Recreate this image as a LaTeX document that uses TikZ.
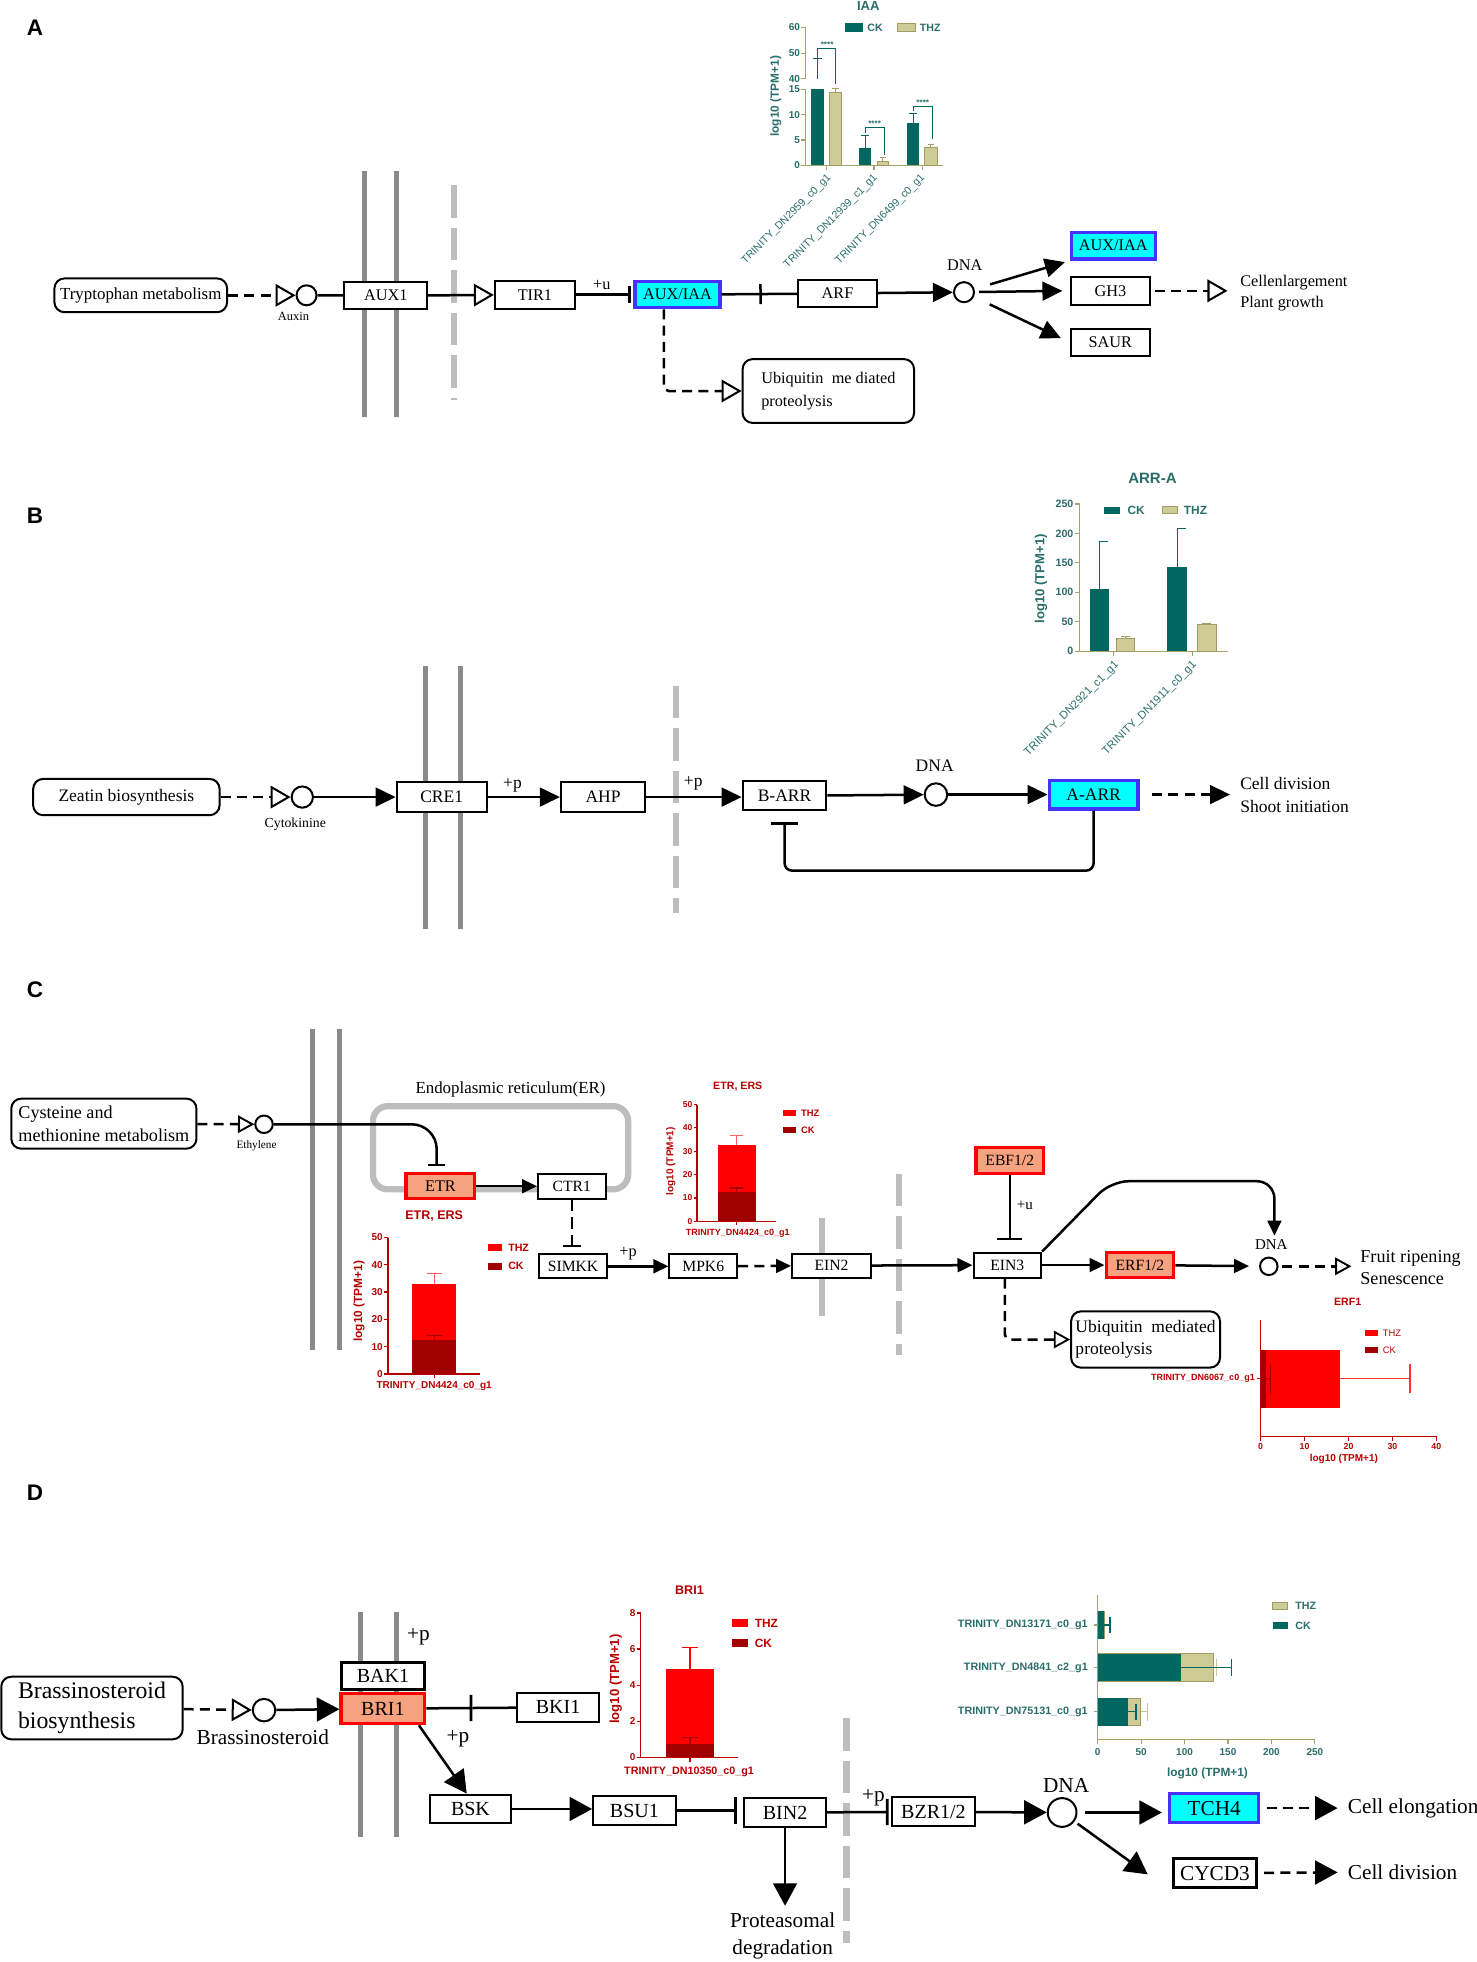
\documentclass[tikz,border=0pt]{standalone}
\usepackage{fontspec}
\setmainfont{Liberation Serif}
\newfontfamily\chartfont{Liberation Sans}
\usetikzlibrary{arrows.meta}
\newcommand{\fsz}[1]{\fontsize{#1}{#1}\selectfont}
\newcommand{\cf}[1]{\chartfont\bfseries\fontsize{#1}{#1}\selectfont}
\newcommand{\cfr}[1]{\chartfont\fontsize{#1}{#1}\selectfont}
\definecolor{teal1}{HTML}{006660}
\definecolor{tealtxt}{HTML}{2A6E6B}
\definecolor{khaki}{HTML}{CFCB97}
\definecolor{khakiline}{HTML}{A09C62}
\definecolor{axkh}{HTML}{A6A36A}
\definecolor{red1}{HTML}{FF0000}
\definecolor{lred}{HTML}{FF6060}
\definecolor{dred}{HTML}{A00000}
\definecolor{redtxt}{HTML}{B80000}
\definecolor{salmon1}{HTML}{F7A27F}
\definecolor{cyan1}{HTML}{00FFFF}
\definecolor{blue1}{HTML}{4433FF}
\definecolor{memgray}{HTML}{8A8A8A}
\definecolor{lgray}{HTML}{BDBDBD}
\tikzset{
 ln/.style={line width=2pt},
 dl/.style={line width=2pt, dash pattern=on 8pt off 5pt},
 tipF/.style={-{Triangle[length=16pt,width=15pt]}},
 tipFs/.style={-{Triangle[length=12pt,width=11pt]}},
 tipFL/.style={-{Triangle[length=18pt,width=19pt]}},
 tipO/.style={-{Triangle[open,length=16pt,width=18pt,line width=1.6pt]}},
 tipOs/.style={-{Triangle[open,length=13pt,width=14pt,line width=1.5pt]}},
 tipB/.style={-{Bar[width=15pt,line width=2pt]}},
 tipBL/.style={-{Bar[width=21pt,line width=2.2pt]}},
 gbox/.style={draw, line width=1.6pt, fill=white, inner sep=0pt},
 cbox/.style={gbox, fill=cyan1, draw=blue1, line width=2.6pt},
 sbox/.style={gbox, fill=salmon1, draw=red1, line width=2.6pt},
 rbox/.style={draw, line width=1.6pt, rounded corners=8pt, fill=white, inner sep=0pt},
 dnac/.style={circle, draw, line width=1.6pt, fill=white, inner sep=0pt},
 memb/.style={memgray, line width=4pt},
 dmemb/.style={lgray, line width=5pt, dash pattern=on 26pt off 8pt},
 plabel/.style={font=\cf{18}},
 txt/.style={inner sep=0pt},
}
\begin{document}
\begin{tikzpicture}[x=1pt,y=-1pt]
\useasboundingbox (0,0) rectangle (1180,1568);
\fill[white] (0,0) rectangle (1180,1568);

%%%%%%%%%%%%%%%% PANEL A
\node[plabel] (labA) at (28,22) {A};
\draw[memb] (291,137) -- (291,333);
\draw[memb] (317,137) -- (317,333);
\draw[dmemb] (362.6,148) -- (362.6,320);

\node[rbox, minimum width=138pt, minimum height=27pt, font=\fsz{13.5}] (tryp) at (112.5,236) {Tryptophan metabolism};
\node[dnac, minimum size=16pt] (auxin) at (245,236) {};
\node[font=\fsz{10}] (auxinL) at (234.6,253) {Auxin};
\draw[dl, tipO] (tryp) -- (auxin);
\node[gbox, minimum width=66pt, minimum height=22pt, font=\fsz{13}] (aux1) at (308.3,236.3) {AUX1};
\draw[ln] (auxin) -- (aux1);
\node[gbox, minimum width=64pt, minimum height=22.5pt, font=\fsz{13}] (tir1) at (427.5,235.5) {TIR1};
\draw[ln, tipO] (aux1) -- (tir1);
\node[cbox, minimum width=68pt, minimum height=21pt, font=\fsz{13}] (auxiaa) at (541.5,235.5) {AUX/IAA};
\draw[ln, -{Bar[width=14pt,line width=2pt]}, shorten >=2pt] (tir1) -- (auxiaa);
\node[font=\fsz{13}] (uA) at (481,228) {+u};
\node[gbox, minimum width=63pt, minimum height=21.5pt, font=\fsz{13}] (arf) at (669.3,234.5) {ARF};
\coordinate (barA) at (608.8,235);
\draw[ln, -{Bar[width=16pt,line width=2pt]}] (auxiaa) -- (barA);
\draw[ln] (barA) -- (arf);
\node[dnac, minimum size=16pt] (dnaA) at (770.4,233.5) {};
\node[font=\fsz{13}] (dnaAL) at (771,212) {DNA};
\draw[ln, tipF] (arf) -- (dnaA);
\node[cbox, minimum width=67pt, minimum height=21.5pt, font=\fsz{13}] (auxiaa2) at (889.7,196.3) {AUX/IAA};
\node[gbox, minimum width=63pt, minimum height=22pt, font=\fsz{13}] (gh3) at (887.4,232.4) {GH3};
\node[gbox, minimum width=63pt, minimum height=22pt, font=\fsz{13}] (saur) at (887.4,273.7) {SAUR};
\draw[ln, tipF, shorten <=13pt, shorten >=4pt] (dnaA) -- (auxiaa2.south west);
\draw[ln, tipF, shorten <=12pt, shorten >=6pt] (dnaA.center) -- (gh3.west);
\draw[ln, tipF, shorten <=14pt, shorten >=8pt] (dnaA) -- (saur.west);
\node[txt, anchor=west, align=left, font=\fontsize{13}{17}\selectfont] (cellA) at (991,234) {Cellenlargement\\Plant growth};
\draw[dl, tipO, shorten <=3pt, shorten >=10pt] (gh3) -- (cellA.west |- gh3);
\node[rbox, minimum width=137pt, minimum height=51pt, align=left, font=\fontsize{13}{18}\selectfont] (ubqA) at (662,312.5) {Ubiquitin\ \ me diated\\proteolysis};
\draw[dl, tipO, rounded corners=4pt] ([xshift=-11pt]auxiaa.south) |- (ubqA.west);

% IAA chart
\node[font=\cf{10.5}, text=tealtxt] (iaaT) at (694,5) {IAA};
\draw[axkh, line width=1pt] (644,132) -- (644,71.5) (644,63) -- (644,22);
\draw[axkh, line width=1pt] (644,132) -- (754,132);
\foreach \v/\yy [count=\i] in {0/132,5/111.8,10/91.7,15/71.5,40/63,50/42.5,60/22}{
  \draw[axkh, line width=1pt] (640.5,\yy) -- (644,\yy);
  \node[font=\cf{8}, text=tealtxt, anchor=east, inner sep=0.5pt] (iaaY\i) at (640,\yy) {\v};
}
\foreach \xx in {660.5,698.5,737} \draw[axkh, line width=1pt] (\xx,132) -- (\xx,135.5);
\fill[teal1] (648.5,132) rectangle (658.5,71.5);
\fill[teal1] (686.5,132) rectangle (696,118.5);
\fill[teal1] (725,132) rectangle (734.5,98);
\filldraw[fill=khaki, draw=khakiline, line width=0.8pt] (663,132) rectangle (672.5,74);
\filldraw[fill=khaki, draw=khakiline, line width=0.8pt] (701,132) rectangle (710,129);
\filldraw[fill=khaki, draw=khakiline, line width=0.8pt] (739,132) rectangle (749,117.6);
\draw[teal1, line width=0.8pt] (653.5,63) -- (653.5,46.6) (650,46.6) -- (657,46.6);
\draw[teal1, line width=0.8pt] (691.3,118.5) -- (691.3,108) (688,108) -- (694.6,108);
\draw[teal1, line width=0.8pt] (729.7,98) -- (729.7,90.7) (726.4,90.7) -- (733,90.7);
\draw[khakiline, line width=0.8pt] (667.7,74) -- (667.7,71) (665,71) -- (670.4,71);
\draw[khakiline, line width=0.8pt] (705.5,129) -- (705.5,126) (703,126) -- (708,126);
\draw[khakiline, line width=0.8pt] (744,117.6) -- (744,115.4) (741.5,115.4) -- (746.5,115.4);
\draw[teal1, line width=0.8pt] (653.3,46) -- (653.3,38.7) -- (668,38.7) -- (668,67);
\draw[teal1, line width=0.8pt] (691.3,106) -- (691.3,102) -- (706.5,102) -- (706.5,124);
\draw[teal1, line width=0.8pt] (729.7,89) -- (729.7,85) -- (745,85) -- (745,111);
\node[font=\cf{6.5}, text=tealtxt] (iaaS1) at (661,35.5) {****};
\node[font=\cf{6.5}, text=tealtxt] (iaaS2) at (699,99) {****};
\node[font=\cf{6.5}, text=tealtxt] (iaaS3) at (737.5,82) {****};
\fill[teal1] (675,18.7) rectangle (690,25.3);
\node[font=\cf{8.5}, text=tealtxt, anchor=west, inner sep=0pt] (iaaL1) at (693,22) {CK};
\filldraw[fill=khaki, draw=khakiline, line width=0.8pt] (717,18.7) rectangle (732,25.3);
\node[font=\cf{8.5}, text=tealtxt, anchor=west, inner sep=0pt] (iaaL2) at (735,22) {THZ};
\node[font=\cf{9.5}, text=tealtxt, rotate=90] (iaaYL) at (620,77) {log10 (TPM+1)};
\node[font=\cfr{8.5}, text=tealtxt, rotate=45, anchor=east, inner sep=0pt] (iaaX1) at (663,141) {TRINITY\_DN2959\_c0\_g1};
\node[font=\cfr{8.5}, text=tealtxt, rotate=45, anchor=east, inner sep=0pt] (iaaX2) at (700,141) {TRINITY\_DN12939\_c1\_g1};
\node[font=\cfr{8.5}, text=tealtxt, rotate=45, anchor=east, inner sep=0pt] (iaaX3) at (738,141) {TRINITY\_DN6499\_c0\_g1};

%%%%%%%%%%%%%%%% PANEL B
\node[plabel] (labB) at (28,412) {B};
\draw[memb] (340,532) -- (340,742.6);
\draw[memb] (368,532) -- (368,742.6);
\draw[dmemb] (540,548) -- (540,730);
\node[rbox, minimum width=149pt, minimum height=29pt, font=\fsz{14}] (zeat) at (101,637) {Zeatin biosynthesis};
\node[dnac, minimum size=17pt] (cyto) at (241.6,637) {};
\node[font=\fsz{11}] (cytoL) at (236,658.7) {Cytokinine};
\draw[dl, tipO] (zeat) -- (cyto);
\node[gbox, minimum width=72pt, minimum height=24pt, font=\fsz{14}] (cre1) at (353,637) {CRE1};
\draw[ln, tipF] (cyto) -- (cre1);
\node[gbox, minimum width=67.5pt, minimum height=24pt, font=\fsz{14}] (ahp) at (482,637) {AHP};
\draw[ln, tipF] (cre1) -- (ahp);
\node[font=\fsz{14}] (pB1) at (409.6,628) {+p};
\node[gbox, minimum width=67pt, minimum height=23pt, font=\fsz{14}] (barr) at (627,636) {B-ARR};
\draw[ln, tipF] (ahp) -- (ahp -| barr.west);
\node[font=\fsz{14}] (pB2) at (554,626) {+p};
\node[dnac, minimum size=18pt] (dnaB) at (748,635) {};
\node[font=\fsz{14}] (dnaBL) at (747,612) {DNA};
\draw[ln, tipF] (barr) -- (dnaB);
\node[cbox, minimum width=71pt, minimum height=23pt, font=\fsz{14}] (aarr) at (874,635) {A-ARR};
\draw[ln, tipF] (dnaB) -- (aarr);
\node[txt, anchor=west, align=left, font=\fontsize{14}{18}\selectfont] (cellB) at (991,635.5) {Cell division\\Shoot initiation};
\draw[dl, tipF, shorten <=10pt, shorten >=8pt] (aarr) -- (cellB.west |- aarr);
\draw[ln, rounded corners=6pt, -{Bar[width=22pt,line width=2.2pt]}, shorten >=9pt] (aarr.south) -- ++(0,48) -| (barr.south);

% ARR-A chart
\node[font=\cf{12}, text=tealtxt] (arrT) at (921,382) {ARR-A};
\draw[axkh, line width=1pt] (863,520.5) -- (863,402.7);
\draw[axkh, line width=1pt] (863,520.5) -- (981,520.5);
\foreach \v [count=\i] in {0,50,100,150,200,250}{
  \draw[axkh, line width=1pt] (859.5,520.5-0.4712*\v) -- (863,520.5-0.4712*\v);
  \node[font=\cf{8.5}, text=tealtxt, anchor=east, inner sep=0.5pt] (arrY\i) at (858.5,520.5-0.4712*\v) {\v};
}
\foreach \xx in {890,953} \draw[axkh, line width=1pt] (\xx,520.5) -- (\xx,524);
\fill[teal1] (870.7,520.5) rectangle (886,470.6);
\fill[teal1] (933,520.5) rectangle (949,453.1);
\filldraw[fill=khaki, draw=khakiline, line width=0.8pt] (892,520.5) rectangle (907,510.6);
\filldraw[fill=khaki, draw=khakiline, line width=0.8pt] (957,520.5) rectangle (972,499.3);
\draw[teal1, line width=0.8pt] (878.3,470.6) -- (878.3,432.9) (878.3,432.9) -- (885.5,432.9);
\draw[teal1, line width=0.8pt] (941,453.1) -- (941,422) (941,422) -- (948,422);
\draw[khakiline, line width=0.8pt] (899.5,510.6) -- (899.5,508.7) (896,508.7) -- (903,508.7);
\draw[khakiline, line width=0.8pt] (964.5,499.3) -- (964.5,497.9) (961,497.9) -- (968,497.9);
\fill[teal1] (882,405) rectangle (894.7,410.7);
\node[font=\cf{9.5}, text=tealtxt, anchor=west, inner sep=0pt] (arrL1) at (901,408) {CK};
\filldraw[fill=khaki, draw=khakiline, line width=0.8pt] (929,405) rectangle (941,410.7);
\node[font=\cf{9.5}, text=tealtxt, anchor=west, inner sep=0pt] (arrL2) at (946,408) {THZ};
\node[font=\cf{10.5}, text=tealtxt, rotate=90] (arrYL) at (832,462.6) {log10 (TPM+1)};
\node[font=\cfr{9}, text=tealtxt, rotate=45, anchor=east, inner sep=0pt] (arrX1) at (893,530) {TRINITY\_DN2921\_c1\_g1};
\node[font=\cfr{9}, text=tealtxt, rotate=45, anchor=east, inner sep=0pt] (arrX2) at (955,530) {TRINITY\_DN1911\_c0\_g1};

%%%%%%%%%%%%%%%% PANEL C
\node[plabel] (labC) at (28,791) {C};
\draw[memb] (250,822) -- (250,1078.6);
\draw[memb] (271,822) -- (271,1078.6);
\draw[lgray, line width=5pt] (657,973) -- (657,1052);
\draw[dmemb] (718.6,938) -- (718.6,1083);
\draw[lgray, line width=5pt, rounded corners=12pt] (298,884) rectangle (502,950.5);
\node[font=\fsz{13.5}] (erL) at (408,871) {Endoplasmic reticulum(ER)};
\node[rbox, minimum width=148pt, minimum height=40pt, align=left, font=\fontsize{14.5}{18}\selectfont] (cyst) at (83,898) {Cysteine and\\methionine metabolism};
\node[dnac, minimum size=14pt] (eth) at (211,898.5) {};
\node[font=\fsz{9}] (ethL) at (205,916) {Ethylene};
\draw[dl, tipOs] (cyst) -- (eth);
\node[sbox, minimum width=55pt, minimum height=20pt, font=\fsz{13}] (etr) at (352,948) {ETR};
\node[gbox, minimum width=54pt, minimum height=20pt, font=\fsz{12.5}] (ctr1) at (457,948) {CTR1};
\draw[ln, rounded corners=20pt, -{Bar[width=14pt,line width=2pt]}, shorten >=4.5pt] (eth) -| ([xshift=-3pt]etr.north);
\draw[ln, tipFs] (etr) -- (ctr1);
\node[gbox, minimum width=54pt, minimum height=19pt, font=\fsz{12.5}] (simkk) at (458,1012) {SIMKK};
\draw[ln, dash pattern=on 9pt off 5pt, -{Bar[width=14pt,line width=2pt]}, shorten >=5pt] (ctr1) -- (ctr1 |- simkk.north);
\node[gbox, minimum width=54pt, minimum height=19pt, font=\fsz{12.5}] (mpk6) at (562,1012) {MPK6};
\draw[ln, tipFs] (simkk) -- (mpk6);
\node[font=\fsz{13}] (pC1) at (502,1002) {+p};
\node[gbox, minimum width=63pt, minimum height=19pt, font=\fsz{12.5}] (ein2) at (664.5,1011.5) {EIN2};
\draw[dl, tipFs] (mpk6) -- (ein2);
\node[gbox, minimum width=54pt, minimum height=20pt, font=\fsz{12.5}] (ein3) at (805,1011) {EIN3};
\draw[ln, tipFs] (ein2) -- (ein3);
\node[sbox, minimum width=54pt, minimum height=21pt, font=\fsz{12.5}] (ebf) at (807,927.5) {EBF1/2};
\draw[ln, -{Bar[width=20pt,line width=2.2pt]}, shorten >=9pt] (ebf.south) -- (ebf.south |- ein3.north);
\node[font=\fsz{12}] (uC) at (819,963) {+u};
\node[sbox, minimum width=54pt, minimum height=20pt, font=\fsz{12.5}] (erf) at (911,1011) {ERF1/2};
\draw[ln, tipFs] (ein3) -- (erf);
\node[dnac, minimum size=14pt] (dnaC) at (1014,1012) {};
\node[font=\fsz{12}] (dnaCL) at (1016,995) {DNA};
\draw[ln, tipFs, shorten >=8pt] (erf) -- (dnaC);
\draw[ln, rounded corners=14pt, tipFs] (ein3.north east) -- (888,944) -- (1018.5,944) -- ([xshift=2.5pt]dnaCL.north);
\node[txt, anchor=west, align=left, font=\fontsize{14.5}{18}\selectfont] (fruit) at (1087,1013) {Fruit ripening\\Senescence};
\draw[dl, tipOs, shorten <=3pt, shorten >=7pt] (dnaC) -- (fruit.west |- dnaC);
\node[rbox, minimum width=119pt, minimum height=45pt, align=left, font=\fontsize{14}{18}\selectfont] (ubqC) at (915.5,1070.5) {Ubiquitin\ \ mediated\\proteolysis};
\draw[dl, tipOs, rounded corners=4pt] ([xshift=-2pt]ein3.south) |- (ubqC.west);

% ETR chart lower-left
\node[font=\cf{10}, text=redtxt] (etr1T) at (347,972) {ETR, ERS};
\draw[redtxt, line width=1pt] (310,1098) -- (310,989);
\draw[redtxt, line width=1pt] (310,1098) -- (384,1098);
\foreach \v [count=\i] in {0,10,20,30,40,50}{
  \draw[redtxt, line width=1pt] (307,1098-2.18*\v) -- (310,1098-2.18*\v);
  \node[font=\cf{8}, text=redtxt, anchor=east, inner sep=0.5pt] (etr1Y\i) at (306.5,1098-2.18*\v) {\v};
}
\draw[redtxt, line width=1pt] (347,1098) -- (347,1101.5);
\fill[red1] (329,1098) rectangle (364.5,1026.5);
\fill[dred] (329,1098) rectangle (364.5,1071.2);
\draw[lred, line width=1pt] (347,1026.5) -- (347,1018) (341,1018) -- (353,1018);
\draw[dred, line width=1pt] (347,1071.2) -- (347,1067) (341,1067) -- (353,1067);
\fill[red1] (390,994) rectangle (401,999.5);
\node[font=\cf{8.5}, text=redtxt, anchor=west, inner sep=0pt] (etr1L1) at (406,997) {THZ};
\fill[dred] (390,1009) rectangle (401,1014.6);
\node[font=\cf{8.5}, text=redtxt, anchor=west, inner sep=0pt] (etr1L2) at (406,1012) {CK};
\node[font=\cf{9.5}, text=redtxt, rotate=90] (etr1YL) at (287,1040) {log10 (TPM+1)};
\node[font=\cf{8}, text=redtxt] (etr1X) at (347,1108) {TRINITY\_DN4424\_c0\_g1};

% ETR chart top
\node[font=\cf{8.5}, text=redtxt] (etr2T) at (589.6,868) {ETR, ERS};
\draw[redtxt, line width=1pt] (557,976) -- (557,882.7);
\draw[redtxt, line width=1pt] (557,976) -- (620,976);
\foreach \v [count=\i] in {0,10,20,30,40,50}{
  \draw[redtxt, line width=1pt] (554.5,976-1.866*\v) -- (557,976-1.866*\v);
  \node[font=\cf{6.8}, text=redtxt, anchor=east, inner sep=0.5pt] (etr2Y\i) at (554,976-1.866*\v) {\v};
}
\draw[redtxt, line width=1pt] (588.8,976) -- (588.8,979);
\fill[red1] (573.6,976) rectangle (604,914.8);
\fill[dred] (573.6,976) rectangle (604,953);
\draw[lred, line width=1pt] (588.8,914.8) -- (588.8,907.5) (583.5,907.5) -- (594,907.5);
\draw[dred, line width=1pt] (588.8,953) -- (588.8,949.5) (583.5,949.5) -- (594,949.5);
\fill[red1] (625.6,887) rectangle (636,891.5);
\node[font=\cf{7.5}, text=redtxt, anchor=west, inner sep=0pt] (etr2L1) at (640,889.3) {THZ};
\fill[dred] (625.6,901) rectangle (636,905.5);
\node[font=\cf{7.5}, text=redtxt, anchor=west, inner sep=0pt] (etr2L2) at (640,903.3) {CK};
\node[font=\cf{8}, text=redtxt, rotate=90] (etr2YL) at (536,928) {log10 (TPM+1)};
\node[font=\cf{7.2}, text=redtxt] (etr2X) at (589.6,986) {TRINITY\_DN4424\_c0\_g1};

% ERF1 chart
\node[font=\cf{8.5}, text=redtxt] (erfT) at (1077,1040) {ERF1};
\draw[redtxt, line width=1pt] (1007.5,1054.6) -- (1007.5,1148) -- (1148,1148);
\foreach \v [count=\i] in {0,10,20,30,40}{
  \draw[redtxt, line width=1pt] (1007.5+3.51*\v,1148) -- (1007.5+3.51*\v,1151.5);
  \node[font=\cf{7}, text=redtxt, anchor=north, inner sep=0.5pt] (erfX\i) at (1007.5+3.51*\v,1153) {\v};
}
\draw[redtxt, line width=1pt] (1004.5,1101.8) -- (1007.5,1101.8);
\fill[red1] (1007.5,1078.7) rectangle (1070.7,1125.3);
\fill[dred] (1007.5,1078.7) rectangle (1012.1,1125.3);
\draw[red1!80!white, line width=1pt] (1070.7,1101.8) -- (1126.8,1101.8) (1126.8,1090) -- (1126.8,1113);
\draw[dred, line width=1pt] (1012.1,1101.8) -- (1015.6,1101.8) (1015.6,1090) -- (1015.6,1113);
\fill[red1] (1091,1063) rectangle (1101,1068);
\node[font=\cfr{7.5}, text=redtxt, anchor=west, inner sep=0pt] (erfL1) at (1105,1065.5) {THZ};
\fill[dred] (1091,1076.5) rectangle (1101,1081);
\node[font=\cfr{7.5}, text=redtxt, anchor=west, inner sep=0pt] (erfL2) at (1105,1079) {CK};
\node[font=\cf{7.2}, text=redtxt, anchor=east, inner sep=0pt] (erfY) at (1003,1101.8) {TRINITY\_DN6067\_c0\_g1};
\node[font=\cf{8}, text=redtxt] (erfXL) at (1074,1166) {log10 (TPM+1)};

%%%%%%%%%%%%%%%% PANEL D
\node[plabel] (labD) at (28,1193) {D};
\draw[memb] (288.4,1288) -- (288.4,1468);
\draw[memb] (316.8,1288) -- (316.8,1468);
\draw[dmemb] (676.5,1373) -- (676.5,1553);
\node[rbox, minimum width=145pt, minimum height=50pt, align=left, font=\fontsize{19}{24}\selectfont] (brass) at (73.5,1365) {Brassinosteroid\\biosynthesis};
\node[dnac, minimum size=18pt] (brc) at (211,1366.7) {};
\node[font=\fsz{17}] (brcL) at (210,1388) {Brassinosteroid};
\draw[dl, tipO] (brass) -- (brc);
\node[gbox, line width=2.4pt, minimum width=66pt, minimum height=22pt, font=\fsz{16}] (bak1) at (306,1339.5) {BAK1};
\node[sbox, minimum width=67pt, minimum height=24pt, font=\fsz{16}] (bri1) at (306,1365.5) {BRI1};
\draw[ln, tipFL] (brc) -- (bri1);
\node[font=\fsz{17}] (pD1) at (334.4,1308) {+p};
\node[font=\fsz{17}] (pD2) at (366,1389.3) {+p};
\node[gbox, minimum width=66pt, minimum height=23pt, font=\fsz{16}] (bki1) at (446,1364.5) {BKI1};
\coordinate (barD) at (377.5,1365);
\draw[ln, -{Bar[width=21pt,line width=2.2pt]}] (bri1) -- (barD);
\draw[ln] (barD) -- (bki1);
\node[gbox, minimum width=65pt, minimum height=23pt, font=\fsz{16}] (bsk) at (376,1445.7) {BSK};
\draw[ln, tipFL] ([xshift=-6pt]bri1.south east) -- ([xshift=-3pt]bsk.north);
\node[gbox, minimum width=66pt, minimum height=23pt, font=\fsz{16}] (bsu1) at (507,1447) {BSU1};
\draw[ln, tipFL] (bsk) -- (bsu1.west |- bsk);
\node[gbox, minimum width=65pt, minimum height=23pt, font=\fsz{16}] (bin2) at (627.4,1448.5) {BIN2};
\draw[ln, tipBL, shorten >=5pt] (bsu1) -- (bin2.west |- bsu1);
\node[txt, align=center, font=\fontsize{17}{22}\selectfont] (prot) at (625.5,1547) {Proteasomal\\degradation};
\draw[ln, tipFL, shorten >=5pt] (bin2.south) -- (bin2.south |- prot.north);
\node[font=\fsz{17}] (pD3) at (698,1437) {+p};
\node[gbox, minimum width=66pt, minimum height=23pt, font=\fsz{16}] (bzr) at (746,1448) {BZR1/2};
\draw[ln, tipBL, shorten >=2pt] (bin2) -- (bzr);
\node[dnac, minimum size=23pt] (dnaD) at (848.8,1448.5) {};
\node[font=\fsz{17}] (dnaDL) at (852,1426.7) {DNA};
\draw[ln, tipFL] (bzr) -- (dnaD);
\node[cbox, minimum width=71pt, minimum height=23pt, font=\fsz{17}] (tch4) at (970.4,1445) {TCH4};
\draw[ln, tipFL, shorten <=6pt, shorten >=5pt] (dnaD) -- (tch4.west |- dnaD);
\node[gbox, line width=2.6pt, minimum width=66pt, minimum height=23pt, font=\fsz{17}] (cycd3) at (971,1497) {CYCD3};
\draw[ln, tipFL, shorten <=3pt, shorten >=24pt] (dnaD) -- ([yshift=-15pt]cycd3.west);
\node[txt, anchor=west, font=\fsz{17}] (celD1) at (1077,1445) {Cell elongation};
\node[txt, anchor=west, font=\fsz{17}] (celD2) at (1077,1496) {Cell division};
\draw[dl, tipFL, shorten <=5pt, shorten >=8pt] (tch4) -- (celD1);
\draw[dl, tipFL, shorten <=5pt, shorten >=8pt] (cycd3) -- (celD2);

% BRI1 chart
\node[font=\cf{10}, text=redtxt] (briT) at (551,1270.7) {BRI1};
\draw[redtxt, line width=1pt] (512,1404.5) -- (512,1289);
\draw[redtxt, line width=1pt] (512,1404.5) -- (589.6,1404.5);
\foreach \v [count=\i] in {0,2,4,6,8}{
  \draw[redtxt, line width=1pt] (509,1404.5-14.44*\v) -- (512,1404.5-14.44*\v);
  \node[font=\cf{8}, text=redtxt, anchor=east, inner sep=0.5pt] (briY\i) at (508.5,1404.5-14.44*\v) {\v};
}
\draw[redtxt, line width=1pt] (551.5,1404.5) -- (551.5,1408);
\fill[red1] (532.6,1404.5) rectangle (570.4,1333.7);
\fill[dred] (532.6,1404.5) rectangle (570.4,1394.1);
\draw[red1, line width=1pt] (551.5,1333.7) -- (551.5,1316.4) (545,1316.4) -- (558,1316.4);
\draw[dred, line width=1pt] (551.5,1394.1) -- (551.5,1388.6) (545,1388.6) -- (558,1388.6);
\fill[red1] (585,1293.7) rectangle (597.6,1300);
\node[font=\cf{9.5}, text=redtxt, anchor=west, inner sep=0pt] (briL1) at (603,1297) {THZ};
\fill[dred] (585,1310) rectangle (597.6,1316);
\node[font=\cf{9.5}, text=redtxt, anchor=west, inner sep=0pt] (briL2) at (603,1313) {CK};
\node[font=\cf{10.5}, text=redtxt, rotate=90] (briYL) at (492,1342) {log10 (TPM+1)};
\node[font=\cf{8.6}, text=redtxt] (briX) at (550.7,1416) {TRINITY\_DN10350\_c0\_g1};

% horizontal chart D
\draw[axkh, line width=1pt] (877.3,1274.7) -- (877.3,1390) -- (1050.6,1390);
\foreach \v [count=\i] in {0,50,100,150,200,250}{
  \draw[axkh, line width=1pt] (877.3+0.694*\v,1390) -- (877.3+0.694*\v,1393.5);
  \node[font=\cf{8}, text=tealtxt, anchor=north, inner sep=0.5pt] (hX\i) at (877.3+0.694*\v,1396.5) {\v};
}
\foreach \yy in {1298.7,1332.7,1368} \draw[axkh, line width=1pt] (874,\yy) -- (877.3,\yy);
\filldraw[fill=khaki, draw=khakiline, line width=0.8pt] (877.3,1287.7) rectangle (882.5,1309.7);
\filldraw[fill=khaki, draw=khakiline, line width=0.8pt] (877.3,1321.7) rectangle (969.6,1343.7);
\filldraw[fill=khaki, draw=khakiline, line width=0.8pt] (877.3,1357) rectangle (911.7,1379);
\fill[teal1] (877.3,1287.7) rectangle (882.2,1309.7);
\fill[teal1] (877.3,1321.7) rectangle (943.9,1343.7);
\fill[teal1] (877.3,1357) rectangle (901.6,1379);
\draw[khakiline!60!white, line width=0.8pt] (969.6,1332.7) -- (972.4,1332.7) (972.4,1326) -- (972.4,1339.5);
\draw[khakiline!60!white, line width=0.8pt] (911.7,1368) -- (916.9,1368) (916.9,1361) -- (916.9,1375);
\draw[teal1, line width=1pt] (882.2,1298.7) -- (887,1298.7) (887,1292.5) -- (887,1305);
\draw[teal1, line width=1pt] (943.9,1332.7) -- (984.2,1332.7) (984.2,1326) -- (984.2,1339.5);
\draw[teal1, line width=1pt] (901.6,1368) -- (907.8,1368) (907.8,1361.5) -- (907.8,1374.5);
\node[font=\cf{8.6}, text=tealtxt, anchor=east, inner sep=0pt] (hY1) at (869.5,1298.7) {TRINITY\_DN13171\_c0\_g1};
\node[font=\cf{8.6}, text=tealtxt, anchor=east, inner sep=0pt] (hY2) at (869.5,1332.7) {TRINITY\_DN4841\_c2\_g1};
\node[font=\cf{8.6}, text=tealtxt, anchor=east, inner sep=0pt] (hY3) at (869.5,1368) {TRINITY\_DN75131\_c0\_g1};
\filldraw[fill=khaki, draw=khakiline, line width=0.8pt] (1017,1280.5) rectangle (1029,1286.5);
\node[font=\cf{8.5}, text=tealtxt, anchor=west, inner sep=0pt] (hL1) at (1035,1283.5) {THZ};
\fill[teal1] (1017,1296) rectangle (1029,1302);
\node[font=\cf{8.5}, text=tealtxt, anchor=west, inner sep=0pt] (hL2) at (1035,1299) {CK};
\node[font=\cf{9.5}, text=tealtxt] (hXL) at (965,1417) {log10 (TPM+1)};
\end{tikzpicture}
\end{document}
